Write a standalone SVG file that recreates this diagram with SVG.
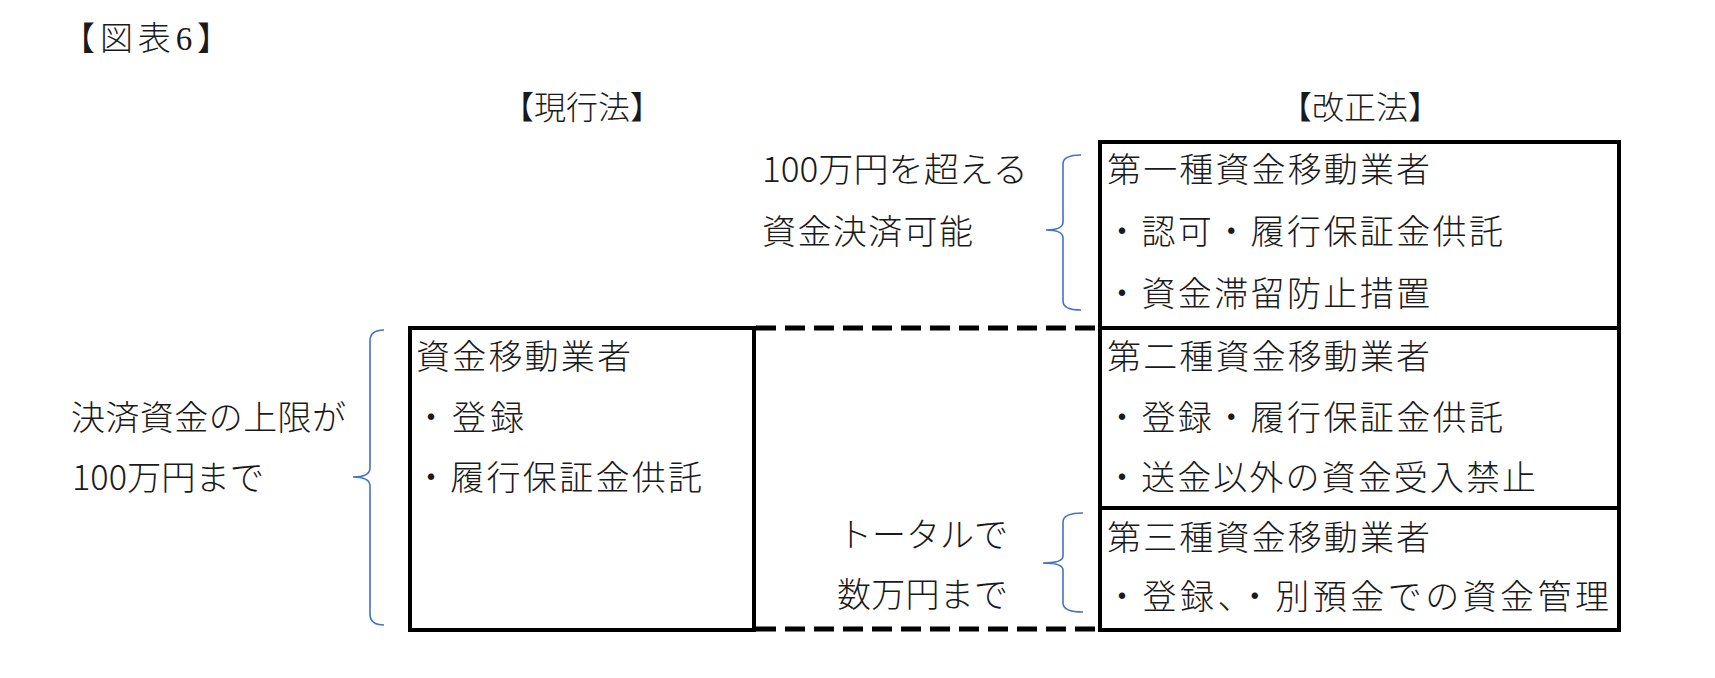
<svg xmlns="http://www.w3.org/2000/svg" width="1715" height="678" viewBox="0 0 1715 678">
<style>
.t{font-family:"Noto Sans CJK JP","Noto Sans",sans-serif;font-size:34px;font-weight:300;fill:#1a1a1a}
.h{font-family:"Liberation Serif","Noto Sans CJK JP",serif;font-size:32px;font-weight:300;fill:#1a1a1a}
.box{fill:none;stroke:#000;stroke-width:4}
.dash{fill:none;stroke:#000;stroke-width:5;stroke-dasharray:20 9}
.brace{fill:none;stroke:#4472C4;stroke-width:1.6}
</style>
<rect width="1715" height="678" fill="#fff"/>
<g id="title"><text class="h" x="62" y="50" style="font-size:33px" textLength="168" lengthAdjust="spacing">【図表6】</text></g>
<g id="header-current"><text class="h" x="582" y="119" text-anchor="middle">【現行法】</text></g>
<g id="header-revised"><text class="h" x="1360" y="119" text-anchor="middle">【改正法】</text></g>

<g id="label-over">
<text class="t" x="762" y="182" textLength="266" lengthAdjust="spacingAndGlyphs">100万円を超える</text>
<text class="t" x="762" y="244" textLength="211" lengthAdjust="spacing">資金決済可能</text>
</g>
<g id="label-limit">
<text class="t" x="71" y="430" textLength="275" lengthAdjust="spacing">決済資金の上限が</text>
<text class="t" x="72" y="490" textLength="192" lengthAdjust="spacingAndGlyphs">100万円まで</text>
</g>
<g id="label-total">
<text class="t" x="838" y="547" textLength="170" lengthAdjust="spacing">トータルで</text>
<text class="t" x="837" y="607" textLength="171" lengthAdjust="spacing">数万円まで</text>
</g>

<g id="current-box">
<rect class="box" x="410" y="328" width="344" height="302"/>
<text class="t" x="416" y="369" textLength="215" lengthAdjust="spacing">資金移動業者</text>
<text class="t" x="414" y="430" textLength="110" lengthAdjust="spacing">・登録</text>
<text class="t" x="414" y="490" textLength="288" lengthAdjust="spacing">・履行保証金供託</text>
</g>

<g id="type1">
<rect class="box" x="1100" y="142" width="519" height="186"/>
<text class="t" x="1107" y="182" textLength="323" lengthAdjust="spacing">第一種資金移動業者</text>
<text class="t" x="1105" y="244" textLength="398" lengthAdjust="spacing">・認可・履行保証金供託</text>
<text class="t" x="1105" y="306" textLength="325" lengthAdjust="spacing">・資金滞留防止措置</text>
</g>
<g id="type2">
<rect class="box" x="1100" y="328" width="519" height="180"/>
<text class="t" x="1107" y="369" textLength="323" lengthAdjust="spacing">第二種資金移動業者</text>
<text class="t" x="1105" y="430" textLength="398" lengthAdjust="spacing">・登録・履行保証金供託</text>
<text class="t" x="1105" y="490" textLength="431" lengthAdjust="spacing">・送金以外の資金受入禁止</text>
</g>
<g id="type3">
<rect class="box" x="1100" y="508" width="519" height="122"/>
<text class="t" x="1107" y="550" textLength="323" lengthAdjust="spacing">第三種資金移動業者</text>
<text class="t" x="1105" y="609" textLength="504" lengthAdjust="spacing">・登録、・別預金での資金管理</text>
</g>

<g id="connectors">
<line class="dash" x1="756" y1="328" x2="1098" y2="328"/>
<line class="dash" x1="756" y1="629" x2="1098" y2="629"/>
<path class="brace" d="M384,330 Q370,330 370,341 L370,468 Q370,477 353,477 Q370,477 370,486 L370,614 Q370,625 384,625"/>
<path class="brace" d="M1081,155 Q1063,155 1063,164 L1063,222 Q1063,230 1046,230 Q1063,230 1063,238 L1063,301 Q1063,310 1081,310"/>
<path class="brace" d="M1083,513 Q1063,513 1063,522 L1063,556 Q1063,563 1043,563 Q1063,563 1063,570 L1063,603 Q1063,612 1083,612"/>
</g>
</svg>
